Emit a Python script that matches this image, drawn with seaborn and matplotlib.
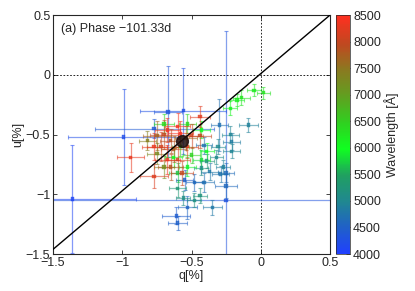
import numpy as np
import pandas as pd
import matplotlib
matplotlib.use("Agg")
import matplotlib.pyplot as plt
from matplotlib.colors import LinearSegmentedColormap, Normalize
import seaborn as sns

sns.set_style("ticks")
plt.rcParams['font.family'] = ['Liberation Sans', 'DejaVu Sans']

# ---- data ----
q = [-1.36, -0.99, -0.25, -0.56, -0.67, -0.30, -0.77,
     -0.61, -0.60, -0.53, -0.35, -0.25, -0.25, -0.09, -0.22, -0.21, -0.31, -0.41,
     -0.41, -0.48, -0.55, -0.37, -0.29, -0.27, -0.21, -0.56, -0.48, -0.44, -0.60,
     -0.32, -0.43, -0.39,
     0.02, -0.05, -0.14, -0.17, -0.22, -0.53, -0.70, -0.43, -0.63, -0.53, -0.43,
     -0.50, -0.60, -0.70, -0.75, -0.82, -0.58, -0.39,
     -0.94, -0.77, -0.72, -0.70, -0.675, -0.65, -0.63, -0.75, -0.675, -0.58,
     -0.54, -0.53, -0.50, -0.44, -0.44, -0.60, -0.65, -0.60, -0.77, -0.57]
u = [-1.04, -0.52, -1.05, -0.30, -0.31, -0.42, -0.45,
     -1.18, -1.24, -1.11, -1.11, -0.93, -0.82, -0.42, -0.50, -0.56, -0.60, -0.59,
     -0.90, -0.90, -0.88, -0.81, -0.83, -0.77, -0.64, -1.03, -1.05, -1.01, -0.95,
     -0.69, -0.78, -0.72,
     -0.15, -0.13, -0.19, -0.21, -0.28, -0.41, -0.41, -0.46, -0.69, -0.77, -0.71,
     -0.67, -0.82, -0.77, -0.66, -0.55, -0.60, -0.64,
     -0.69, -0.85, -0.60, -0.50, -0.46, -0.55, -0.62, -0.51, -0.71, -0.49,
     -0.53, -0.60, -0.51, -0.35, -0.51, -0.43, -0.77, -0.71, -0.60, -0.82]
q_err = [0.46, 0.40, 1.80, 0.31, 0.10, 0.06, 0.43,
         0.10, 0.07, 0.07, 0.07, 0.08, 0.06, 0.07, 0.06, 0.06, 0.05, 0.06,
         0.07, 0.06, 0.06, 0.06, 0.06, 0.05, 0.06, 0.05, 0.05, 0.05, 0.06,
         0.05, 0.05, 0.05,
         0.05, 0.05, 0.06, 0.05, 0.05, 0.06, 0.07, 0.06, 0.06, 0.06, 0.06,
         0.06, 0.06, 0.07, 0.07, 0.06, 0.06, 0.05,
         0.10, 0.10, 0.10, 0.10, 0.09, 0.08, 0.09, 0.10, 0.09, 0.09,
         0.08, 0.08, 0.08, 0.07, 0.08, 0.09, 0.09, 0.09, 0.09, 0.08]
u_err = [0.45, 0.40, 1.42, 0.36, 0.38, 0.22, 0.08,
         0.07, 0.06, 0.10, 0.06, 0.10, 0.08, 0.06, 0.07, 0.07, 0.06, 0.07,
         0.08, 0.07, 0.08, 0.07, 0.07, 0.06, 0.06, 0.06, 0.06, 0.06, 0.07,
         0.06, 0.06, 0.06,
         0.05, 0.05, 0.06, 0.05, 0.06, 0.08, 0.08, 0.07, 0.08, 0.08, 0.08,
         0.07, 0.08, 0.09, 0.09, 0.08, 0.08, 0.07,
         0.12, 0.10, 0.12, 0.12, 0.10, 0.10, 0.11, 0.12, 0.12, 0.10,
         0.10, 0.10, 0.10, 0.09, 0.10, 0.11, 0.11, 0.11, 0.11, 0.10]
wavelength = [4100, 4200, 4300, 4250, 4350, 4700, 4400,
              4450, 4500, 4550, 4800, 4600, 4650, 4900, 4950, 4850, 5000, 4750,
              4700, 4600, 4500, 4800, 4750, 4900, 4950, 5100, 5150, 5200, 5300,
              5050, 5100, 5250,
              6300, 6200, 6250, 6150, 6100, 6400, 6350, 6000, 6050, 5900, 5800,
              6450, 5700, 7200, 7300, 7400, 6500, 5950,
              8300, 8200, 8100, 8000, 8400, 7900, 7800, 7700, 8350, 8450,
              7600, 8150, 8050, 8250, 7950, 8400, 7850, 8100, 8300, 8000]
isp_q, isp_u = -0.57, -0.55
line_q = [-1.5, 0.5]
line_u = [-1.46, 0.5]
cbar_ticks = [4000, 4500, 5000, 5500, 6000, 6500, 7000, 7500, 8000, 8500]

df = pd.DataFrame({"q": q, "u": u, "qe": q_err, "ue": u_err, "wl": wavelength})

cmap = LinearSegmentedColormap.from_list(
    "wl",
    [(0.0, "#2040ff"), (0.11, "#2060c8"), (0.22, "#208890"), (0.33, "#20a060"),
     (0.44, "#10ff20"), (0.55, "#30d020"), (0.66, "#60a020"), (0.77, "#8a7a20"),
     (0.88, "#c04820"), (1.0, "#ff3020")])
norm = Normalize(4000, 8500)

fig = plt.figure(figsize=(4.15, 2.91), dpi=100)
ax = fig.add_axes([0.128, 0.127, 0.667, 0.821])
cax = fig.add_axes([0.810, 0.127, 0.034, 0.821])

for r in df.itertuples():
    c = cmap(norm(r.wl))
    ax.errorbar(r.q, r.u, xerr=r.qe, yerr=r.ue, fmt='none', ecolor=c,
                alpha=0.55, elinewidth=0.9, capsize=1.5, capthick=0.8, zorder=2)

sns.scatterplot(data=df, x="q", y="u", hue="wl", palette=cmap, hue_norm=norm,
                marker="s", s=6, linewidth=0.3, edgecolor=None, alpha=0.8,
                legend=False, ax=ax, zorder=3)

ax.plot(line_q, line_u, color="black", lw=1.0, zorder=4)
ax.axhline(0, color="black", ls=(0, (2, 2)), lw=0.6, zorder=1)
ax.axvline(0, color="black", ls=(0, (2, 2)), lw=0.6, zorder=1)
ax.plot([isp_q], [isp_u], 'o', color="#201010", ms=8.5, alpha=0.85, zorder=5)

ax.set_xlim(-1.5, 0.5)
ax.set_ylim(-1.5, 0.5)
ax.set_xticks([-1.5, -1, -0.5, 0, 0.5])
ax.set_xticklabels(["\u22121.5", "\u22121", "\u22120.5", "0", "0.5"])
ax.set_yticks([-1.5, -1, -0.5, 0, 0.5])
ax.set_yticklabels(["\u22121.5", "\u22121", "\u22120.5", "0", "0.5"])
ax.tick_params(direction="in", top=True, right=True, length=3, width=0.6,
               labelsize=9, pad=2)
ax.set_xlabel("q[%]", fontsize=9, labelpad=1)
ax.set_ylabel("u[%]", fontsize=9, labelpad=1)
for s in ax.spines.values():
    s.set_linewidth(0.8)
    s.set_visible(True)
ax.text(0.03, 0.965, "(a) Phase \u2212101.33d", transform=ax.transAxes,
        fontsize=9, va="top", ha="left")

cb = fig.colorbar(matplotlib.cm.ScalarMappable(norm=norm, cmap=cmap), cax=cax)
cb.set_ticks(cbar_ticks)
cb.ax.tick_params(direction="in", length=3, width=0.5, labelsize=9, pad=2)
cb.outline.set_linewidth(0.5)
cb.set_label("Wavelength [\u00c5]", fontsize=9, labelpad=2)

fig.savefig("out.png", dpi=100)
